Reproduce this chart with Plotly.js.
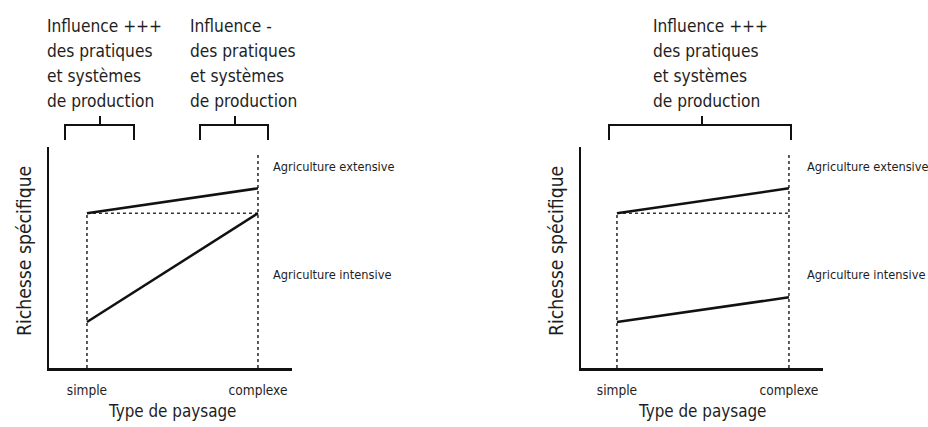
<!DOCTYPE html>
<html>
<head>
<meta charset="utf-8">
<script src="https://cdn.plot.ly/plotly-3.0.1.min.js"></script>
<style>html,body{margin:0;padding:0;background:#fff;}#chart{width:928px;height:427px;}</style>
</head>
<body>
<div id="chart"></div>
<script>
// ---- data ----
const categories = ['simple', 'complexe'];
const xPos = [0, 1];
const leftExtensive = [7.0, 8.13];
const leftIntensive = [2.08, 7.0];
const rightExtensive = [7.0, 8.13];
const rightIntensive = [2.08, 3.2];
const referenceLevel = [7.0, 7.0];
const guideTop = [7.0, 9.64];
const headerStrong = ['Influence +++', 'des pratiques', 'et systèmes', 'de production'];
const headerWeak = ['Influence -', 'des pratiques', 'et systèmes', 'de production'];
const seriesLabels = ['Agriculture extensive', 'Agriculture intensive'];
const xTitle = 'Type de paysage';
const yTitle = 'Richesse spécifique';

// ---- layout helpers ----
const W = 928, H = 427;
const FONT = '"DejaVu Sans Condensed", "Liberation Sans Narrow", "Liberation Sans", sans-serif';
const INK = '#1e1e1e';
const px = x => x / W;
const py = y => 1 - y / H;

function panelTraces(xa, ya, ext, int) {
  const solid = {color: '#111', width: 2.5};
  const dot = {color: '#333', width: 1.6, dash: 'dot'};
  const base = {xaxis: xa, yaxis: ya, mode: 'lines', hoverinfo: 'skip', cliponaxis: false};
  return [
    Object.assign({}, base, {x: xPos, y: referenceLevel, line: dot}),
    Object.assign({}, base, {x: [xPos[0], xPos[0]], y: [0, guideTop[0]], line: dot}),
    Object.assign({}, base, {x: [xPos[1], xPos[1]], y: [0, guideTop[1]], line: dot}),
    Object.assign({}, base, {x: xPos, y: ext, line: solid}),
    Object.assign({}, base, {x: xPos, y: int, line: solid})
  ];
}

const data = [].concat(
  panelTraces('x', 'y', leftExtensive, leftIntensive),
  panelTraces('x2', 'y2', rightExtensive, rightIntensive)
);

function xAxis(d0, d1, r0, r1, anchor) {
  return {
    anchor: anchor,
    domain: [px(d0), px(d1)], range: [r0, r1],
    showline: true, linewidth: 2.5, linecolor: '#111',
    showgrid: false, zeroline: false, ticks: '',
    tickvals: xPos, ticktext: categories,
    tickfont: {family: FONT, size: 13.6, color: INK},
    ticklabelstandoff: 8, fixedrange: true
  };
}
function yAxis(anchor) {
  return {
    anchor: anchor,
    domain: [py(368), py(147)], range: [0, 10],
    showline: true, linewidth: 2.5, linecolor: '#111',
    showgrid: false, zeroline: false, showticklabels: false, ticks: '',
    fixedrange: true
  };
}

function bracket(x0, x1, xc) {
  return {
    type: 'path', xref: 'paper', yref: 'paper',
    path: `M ${px(x0)} ${py(140)} L ${px(x0)} ${py(125)} L ${px(x1)} ${py(125)} L ${px(x1)} ${py(140)} M ${px(xc)} ${py(125)} L ${px(xc)} ${py(116)}`,
    line: {color: '#111', width: 2}
  };
}

function header(lines, x) {
  return lines.map((t, i) => ({
    text: t, xref: 'paper', yref: 'paper', x: px(x), y: py(26 + 25 * i),
    xanchor: 'left', yanchor: 'middle', align: 'left', showarrow: false,
    font: {family: FONT, size: 17.2, color: INK}
  }));
}
function label(text, x, y) {
  return {text: text, xref: 'paper', yref: 'paper', x: px(x), y: py(y), xanchor: 'left', yanchor: 'middle',
    showarrow: false, font: {family: FONT, size: 12.7, color: INK}};
}
function xTitleAnn(x) {
  return {text: xTitle, xref: 'paper', yref: 'paper', x: px(x), y: py(411), xanchor: 'center', yanchor: 'middle',
    showarrow: false, font: {family: FONT, size: 16.9, color: INK}};
}
function yTitleAnn(x) {
  return {text: yTitle, xref: 'paper', yref: 'paper', x: px(x), y: py(251), xanchor: 'center', yanchor: 'middle',
    textangle: -90, showarrow: false, font: {family: FONT, size: 19.2, color: INK}};
}

const layout = {
  width: W, height: H,
  margin: {l: 0, r: 0, t: 0, b: 0},
  paper_bgcolor: '#fff', plot_bgcolor: 'rgba(0,0,0,0)',
  showlegend: false,
  xaxis: xAxis(49, 292, -0.222, 1.199, 'y'),
  yaxis: yAxis('x'),
  xaxis2: xAxis(581, 823, -0.209, 1.198, 'y2'),
  yaxis2: yAxis('x2'),
  shapes: [bracket(65, 134, 100), bracket(200, 268, 235), bracket(609, 791, 702)],
  annotations: [].concat(
    header(headerStrong, 45), header(headerWeak, 188), header(headerStrong, 651),
    [label(seriesLabels[0], 271, 166), label(seriesLabels[1], 271, 274),
     label(seriesLabels[0], 805, 166), label(seriesLabels[1], 805, 274),
     xTitleAnn(172), xTitleAnn(702),
     yTitleAnn(24), yTitleAnn(556)]
  )
};

Plotly.newPlot('chart', data, layout, {displayModeBar: false, staticPlot: true});
</script>
</body>
</html>
